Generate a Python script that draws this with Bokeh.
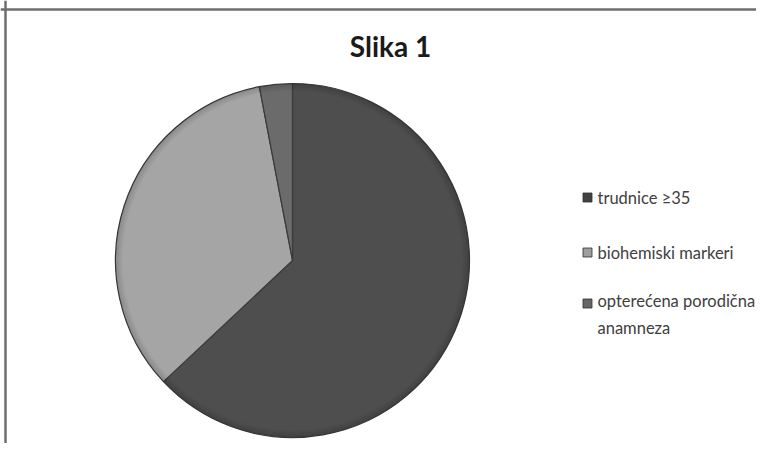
import math
from bokeh.plotting import figure
from bokeh.models import Range1d, Span, ColumnDataSource
from bokeh.core.properties import value
from bokeh.embed import file_html
from bokeh.resources import INLINE

# ---- data ----
categories = ["trudnice ≥35", "biohemiski markeri", "opterećena porodična\nanamneza"]
values = [63, 34, 3]
slice_colors = ["#4e4e4e", "#a5a5a5", "#6b6b6b"]
legend_colors = ["#424242", "#9e9e9e", "#676767"]
title_text = "Slika 1"

W, H = 756, 443
p = figure(width=W, height=H, output_backend="svg", toolbar_location=None,
           x_range=Range1d(0, W), y_range=Range1d(0, H), min_border=0, tools="")
p.axis.visible = False
p.grid.visible = False
p.outline_line_color = None
p.background_fill_color = "white"
p.border_fill_color = "white"


def X(px):
    return px


def Y(py):
    return H - py


# chart border (top and left visible)
p.add_layout(Span(location=Y(9), dimension="width", line_color="#6e6e6e", line_width=2.5))
p.add_layout(Span(location=X(5), dimension="height", line_color="#6e6e6e", line_width=2.5))

# ---- pie ----
cx, cy, r = X(292), Y(260), 177
total = float(sum(values))
starts, ends = [], []
cum = 0.0
for v in values:
    starts.append(math.pi / 2 - 2 * math.pi * cum / total)
    cum += v
    ends.append(math.pi / 2 - 2 * math.pi * cum / total)

src = ColumnDataSource(dict(cat=categories, val=values, start=starts, end=ends, color=slice_colors))
p.wedge(x=cx, y=cy, radius=r, radius_units="screen", start_angle="start", end_angle="end",
        direction="clock", fill_color="color", line_color="#3a3a3a", line_width=1.2, source=src)

# rim shading (bevel look)
for k in range(7):
    p.annulus(x=cx, y=cy, inner_radius=r - k - 1, outer_radius=r - k,
              inner_radius_units="screen", outer_radius_units="screen",
              fill_color="black", fill_alpha=0.16 * (1 - k / 7.0), line_color=None)

# ---- legend ----
leg_x = X(587)
sq_y = [Y(197), Y(252), Y(303)]
txt_y = [Y(197), Y(252), Y(314)]
p.scatter(x=[leg_x] * 3, y=sq_y, marker="square", size=9, fill_color=legend_colors,
          line_color="#2e2e2e", line_width=0.8)
p.text(x=[X(597)] * 3, y=txt_y, text=categories, text_font=value("Lato"),
       text_font_size="16.5px", text_color="#404040", text_baseline="middle",
       text_align="left", text_line_height=1.33)

# ---- title ----
p.text(x=[X(390)], y=[Y(45)], text=[title_text], text_font=value("Lato"),
       text_font_size="28px", text_font_style="bold", text_color="#1a1a1a",
       text_align="center", text_baseline="middle")

open("out.html", "w").write(file_html(p, INLINE))
